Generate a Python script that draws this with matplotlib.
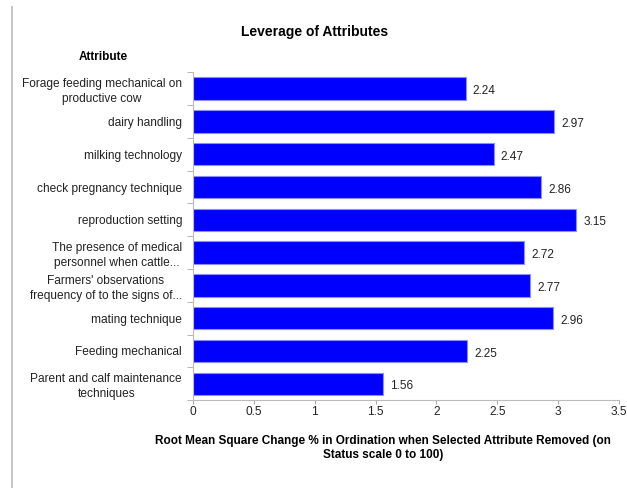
import matplotlib.pyplot as plt
import numpy as np
from matplotlib.lines import Line2D

plt.rcParams['font.family'] = ['Liberation Sans', 'DejaVu Sans']

attributes = [
    "Forage feeding mechanical on\nproductive cow",
    "dairy handling",
    "milking technology",
    "check pregnancy technique",
    "reproduction setting",
    "The presence of medical\npersonnel when cattle...",
    "Farmers' observations\nfrequency of to the signs of...",
    "mating technique",
    "Feeding mechanical",
    "Parent and calf maintenance\ntechniques",
]
values = [2.24, 2.97, 2.47, 2.86, 3.15, 2.72, 2.77, 2.96, 2.25, 1.56]
xticks = [0, 0.5, 1, 1.5, 2, 2.5, 3, 3.5]

fig = plt.figure(figsize=(6.27, 4.88), dpi=100)
ax = fig.add_axes([0.308, 0.180, 0.679, 0.672])

y = np.arange(len(values))
ax.barh(y, values, height=0.68, color='#0000FF', edgecolor='#8C8CFF', linewidth=0.8)
for yi, v in zip(y, values):
    ax.text(v + 0.06, yi + 0.08, f"{v:.2f}", va='center', ha='left', fontsize=8.5, color='#222222')

ax.set_ylim(len(values) - 0.5, -0.5)
ax.set_xlim(0, 3.5)
ax.set_yticks(y)
ax.set_yticklabels(attributes, fontsize=8.6, color='#222222')
ax.tick_params(axis='y', length=0, pad=8)
ax.set_yticks(np.arange(-0.5, len(values), 1), minor=True)
ax.tick_params(axis='y', which='minor', length=4, color='#AAAAAA')
for lbl in ax.get_yticklabels():
    lbl.set_multialignment('center')
    lbl.set_linespacing(1.35)

ax.set_xticks(xticks)
ax.set_xticklabels([f"{t:g}" for t in xticks], fontsize=8.6, color='#222222')
ax.tick_params(axis='x', length=3, pad=1, color='#AAAAAA')

for side in ['top', 'right']:
    ax.spines[side].set_visible(False)
for side in ['left', 'bottom']:
    ax.spines[side].set_color('#BBBBBB')

fig.text(0.611, 0.082,
         "Root Mean Square Change % in Ordination when Selected Attribute Removed (on\nStatus scale 0 to 100)",
         ha='center', va='center', fontsize=8.5, fontweight='bold', linespacing=1.3)
fig.text(0.502, 0.934, "Leverage of Attributes", ha='center', va='center', fontsize=10, fontweight='bold')
fig.text(0.165, 0.883, "Attribute", ha='center', va='center', fontsize=8.5, fontweight='bold')

fig.add_artist(Line2D([0.019, 0.019], [0.0, 0.985], color='#BBBBBB', linewidth=1.2))

fig.savefig('out.png', dpi=100)
